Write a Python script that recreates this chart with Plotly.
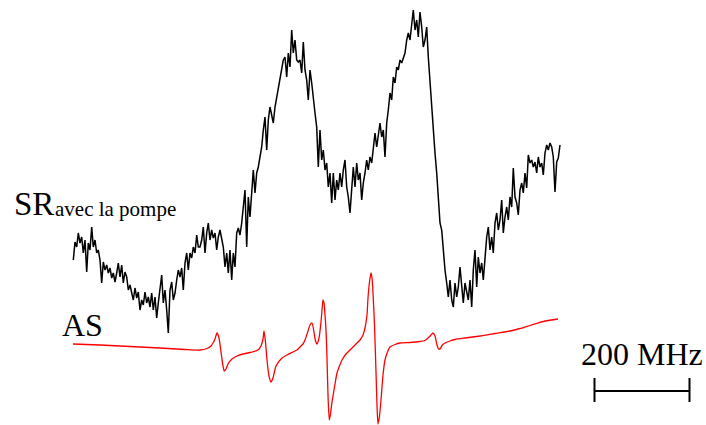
import plotly.graph_objects as go

# Signal "SR avec la pompe" (positions, in image pixel units)
sr_x = [73.3, 75, 76.7, 78.3, 80, 81.7, 83.3, 85, 86.7, 88.3, 90, 91.7, 93.3, 95, 96.7, 98.3, 100, 101.7,
        103.3, 105, 106.7, 108.3, 110, 111.7, 113.3, 115, 116.7, 118.3, 120, 121.7, 123.3, 125, 126.7,
        128.3, 130, 131.7, 133.3, 135, 136.7, 138.3, 140, 141.7, 143.3, 145, 146.7, 148.3, 150, 151.7,
        153.3, 155, 156.7, 158.3, 160, 161.7, 163.3, 165, 166.7, 168.3, 170, 171.7, 173.3, 175, 176.7,
        178.3, 180, 181.7, 183.3, 185, 186.7, 188.3, 190, 191.7, 193.3, 195, 196.7, 198.3, 200, 201.7,
        203.3, 205, 206.7, 208.3, 210, 211.7, 213.3, 215, 216.7, 218.3, 220, 221.7, 223.3, 225, 226.7,
        228.3, 230, 231.7, 233.3, 235, 236.7, 238.3, 240, 241.7, 243.3, 245, 246.7, 248.3, 250, 251.7,
        253.3, 255, 256.7, 258.3, 260, 261.7, 263.3, 265, 266.7, 268.3, 270, 271.7, 273.3, 275, 276.7,
        278.3, 280, 281.7, 283.3, 285, 286.7, 288.3, 290, 291.7, 293.3, 295, 296.7, 298.3, 300, 301.7,
        303.3, 305, 306.7, 308.3, 310, 311.7, 313.3, 315, 316.7, 318.3, 320, 321.7, 323.3, 325, 326.7,
        328.3, 330, 331.7, 333.3, 335, 336.7, 338.3, 340, 341.7, 343.3, 345, 346.7, 348.3, 350, 351.7,
        353.3, 355, 356.7, 358.3, 360, 361.7, 363.3, 365, 366.7, 368.3, 370, 371.7, 373.3, 375, 376.7,
        378.3, 380, 381.7, 383.3, 385, 386.7, 388.3, 390, 391.7, 393.3, 395, 396.7, 398.3, 400, 401.7,
        403.3, 405, 406.7, 408.3, 410, 411.7, 413.3, 415, 416.7, 418.3, 420, 421.7, 423.3, 425, 426.7,
        428.3, 430, 431.7, 433.3, 435, 436.7, 438.3, 440, 441.7, 443.3, 445, 446.7, 448.3, 450, 451.7,
        453.3, 455, 456.7, 458.3, 460, 461.7, 463.3, 465, 466.7, 468.3, 470, 471.7, 473.3, 475, 476.7,
        478.3, 480, 481.7, 483.3, 485, 486.7, 488.3, 490, 491.7, 493.3, 495, 496.7, 498.3, 500, 501.7,
        503.3, 505, 506.7, 508.3, 510, 511.7, 513.3, 515, 516.7, 518.3, 520, 521.7, 523.3, 525, 526.7,
        528.3, 530, 531.7, 533.3, 535, 536.7, 538.3, 540, 541.7, 543.3, 545, 546.7, 548.3, 550, 551.7,
        553.3, 555, 556.7, 558.3, 560]
sr_y = [260, 242, 247, 233, 243, 237, 253, 240, 272, 243, 250, 227, 247, 240, 253, 250, 260, 283,
        262, 270, 265, 273, 268, 278, 273, 282, 273, 263, 277, 265, 283, 272, 277,
        290, 285, 293, 300, 288, 298, 292, 310, 300, 305, 292, 303, 297, 307, 293,
        310, 297, 318, 303, 290, 275, 303, 290, 310, 333, 290, 282, 300, 293, 280,
        270, 277, 268, 290, 263, 253, 270, 253, 258, 247, 253, 235, 247, 247, 240,
        227, 253, 233, 223, 240, 230, 238, 233, 250, 237, 230, 240, 247, 267, 253,
        273, 250, 280, 253, 267, 233, 228, 235, 223, 207, 190, 247, 197, 217, 193,
        170, 193, 173, 167, 157, 147, 130, 117, 150, 120, 107, 117, 123, 107, 97,
        90, 80, 67, 60, 57, 77, 53, 67, 30, 53, 40, 60, 62, 60, 73,
        42, 70, 80, 100, 70, 83, 100, 113, 127, 167, 130, 160, 150, 170, 163,
        187, 173, 203, 173, 200, 180, 190, 173, 187, 170, 160, 187, 197, 213, 190,
        167, 187, 163, 180, 173, 200, 183, 173, 160, 170, 157, 163, 150, 133, 147,
        133, 123, 137, 130, 157, 123, 110, 93, 100, 77, 83, 67, 70, 60, 63,
        57, 53, 40, 33, 40, 23, 10, 30, 20, 37, 12, 27, 47, 40, 27,
        57, 83, 107, 130, 153, 173, 200, 223, 230, 250, 270, 283, 297, 280, 300,
        307, 283, 297, 287, 267, 287, 303, 283, 293, 300, 280, 307, 270, 250, 287,
        257, 273, 263, 280, 257, 237, 227, 250, 237, 253, 223, 213, 230, 220, 200,
        233, 217, 207, 220, 197, 207, 168, 197, 203, 215, 190, 183, 193, 173, 188,
        155, 163, 160, 167, 162, 173, 157, 167, 163, 175, 153, 145, 150, 143, 147,
        157, 192, 162, 158, 145]

# Signal "AS" (absorption saturee)
as_x = [73, 100, 130, 160, 185, 200, 207, 211, 213, 215, 217, 219, 221, 223, 224.3, 226, 228, 232, 237,
        243, 250, 258, 261, 263, 264, 265.5, 267, 269, 271, 273, 276, 282, 287, 293, 297, 300, 303,
        305, 308, 310, 312, 314, 315.5, 317, 319, 321, 322, 323, 324, 325, 326, 327, 328, 329.3, 330.5,
        332, 333, 335, 337, 339.5, 342, 346, 350, 355, 360, 363, 365, 367, 368, 369.5, 371, 372,
        373, 374.5, 376, 377, 378, 379.5, 381, 383, 385, 387.5, 390, 395, 400, 410, 420, 425, 428,
        431, 433, 435, 437, 438.5, 440, 442, 445, 450, 455, 465, 480, 495, 510, 520, 530, 545, 558]
as_y = [344, 345, 346.5, 348, 349.5, 350, 348.5, 346, 343, 339, 333, 338, 352, 366, 371, 369, 364, 359, 356,
        354, 352.5, 350, 346, 339, 331, 342, 360, 376, 382, 378, 366, 358, 355, 352, 350, 347, 344,
        340, 331, 325, 323, 332, 341, 344, 338, 322, 310, 300, 303, 315, 330, 358, 395, 420, 414,
        402, 396, 384, 373, 366, 360, 354, 350, 345, 340, 335, 328, 315, 298, 282, 273, 278,
        293, 325, 372, 405, 424, 416, 400, 375, 360, 352, 347, 344.5, 343, 342.5, 341.5, 340.5, 338,
        335, 333, 336, 345, 349, 349, 345.5, 343, 341, 339.5, 338, 336, 333.5, 331, 328.5, 325.5, 321, 319]

# Scale bar (200 MHz)
scale_x = [594.5, 594.5, None, 594.5, 689.5, None, 689.5, 689.5]
scale_y = [378, 402, None, 391, 391, None, 378, 402]

labels = ["SR", "avec la pompe", "AS", "200 MHz"]

fig = go.Figure()
fig.add_trace(go.Scatter(x=sr_x, y=sr_y, mode="lines",
                         line=dict(color="black", width=1.5), hoverinfo="skip"))
fig.add_trace(go.Scatter(x=as_x, y=as_y, mode="lines",
                         line=dict(color="#ff0000", width=1.3, shape="spline", smoothing=0.6),
                         hoverinfo="skip"))
fig.add_trace(go.Scatter(x=scale_x, y=scale_y, mode="lines",
                         line=dict(color="black", width=2), hoverinfo="skip"))

serif = "Liberation Serif, Times New Roman, serif"
fig.add_annotation(x=12, y=204, text=labels[0], showarrow=False, xanchor="left", yanchor="middle",
                   font=dict(family=serif, size=33, color="black"))
fig.add_annotation(x=53, y=209, text=labels[1], showarrow=False, xanchor="left", yanchor="middle",
                   font=dict(family=serif, size=21, color="black"))
fig.add_annotation(x=60, y=325, text=labels[2], showarrow=False, xanchor="left", yanchor="middle",
                   font=dict(family=serif, size=32, color="black"))
fig.add_annotation(x=579, y=354, text=labels[3], showarrow=False, xanchor="left", yanchor="middle",
                   font=dict(family=serif, size=32, color="black"))

fig.update_layout(
    width=706, height=425,
    margin=dict(l=0, r=0, t=0, b=0),
    paper_bgcolor="white", plot_bgcolor="white",
    showlegend=False,
    xaxis=dict(range=[0, 706], visible=False, fixedrange=True),
    yaxis=dict(range=[425, 0], visible=False, fixedrange=True),
)

fig.write_html("out.html", config={"displayModeBar": False},
               post_script="document.body.style.margin='0';document.body.style.overflow='hidden';")
